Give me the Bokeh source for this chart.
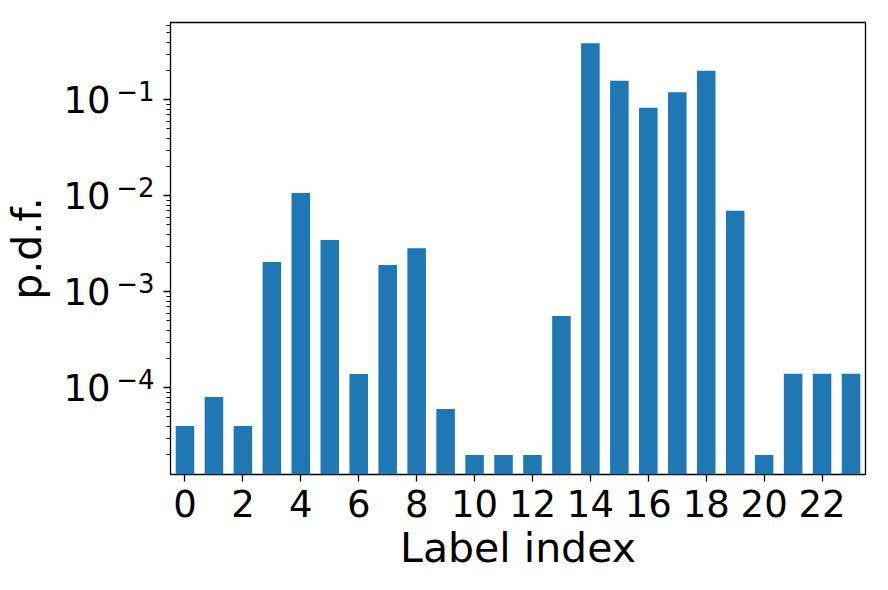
import math
from bokeh.plotting import figure
from bokeh.models import (FixedTicker, CustomJSTickFormatter, Range1d, ColumnDataSource,
                          LogAxis, LogScale)
from bokeh.embed import file_html
from bokeh.resources import INLINE

labels = list(range(24))
pdf = [4.0e-5, 8.0e-5, 4.0e-5, 2.04e-3, 1.07e-2, 3.46e-3, 1.39e-4, 1.9e-3,
       2.85e-3, 6.0e-5, 2.0e-5, 2.0e-5, 2.0e-5, 5.6e-4, 0.388, 0.158,
       0.083, 0.12, 0.201, 6.98e-3, 2.0e-5, 1.4e-4, 1.4e-4, 1.4e-4]
x_ticks = list(range(0, 24, 2))
y_ticks = [1e-4, 1e-3, 1e-2, 1e-1]

X0, X1 = -0.5, 23.5
Y0, Y1 = 1.25e-5, 0.64
SUP_SHIFT = 10 ** 0.095  # raises exponent labels a few pixels

minor = [k * 10.0 ** n for n in range(-5, 0) for k in range(2, 10)]

src = ColumnDataSource(dict(x=labels, top=pdf, bottom=[1e-7] * len(pdf)))

p = figure(width=888, height=590, y_axis_type="log", y_axis_location=None,
           output_backend="svg", toolbar_location=None,
           x_range=Range1d(X0, X1), y_range=Range1d(Y0, Y1),
           min_border_left=168, min_border_right=23, min_border_top=22,
           min_border_bottom=116)
p.extra_y_ranges = {"exp": Range1d(Y0 / SUP_SHIFT, Y1 / SUP_SHIFT)}
p.extra_y_scales = {"exp": LogScale()}

p.vbar(x="x", top="top", bottom="bottom", width=0.64, source=src,
       fill_color="#1f77b4", line_color=None)

p.grid.visible = False
p.outline_line_color = "black"
p.outline_line_width = 1.3

# x axis
xa = p.xaxis[0]
xa.ticker = FixedTicker(ticks=x_ticks)
xa.major_label_text_font = "DejaVu Sans"
xa.major_label_text_font_size = "37px"
xa.major_label_text_color = "black"
xa.axis_label = "Label index"
xa.axis_label_text_font = "DejaVu Sans"
xa.axis_label_text_font_size = "41px"
xa.axis_label_text_font_style = "normal"
xa.axis_label_text_color = "black"
xa.axis_line_color = None
xa.major_tick_line_color = "black"
xa.major_tick_line_width = 1.3
xa.major_tick_out = 7
xa.major_tick_in = 0
xa.minor_tick_line_color = None
xa.major_label_standoff = 8
xa.axis_label_standoff = 4

# y axis A: tick marks only (adjacent to the frame)
axA = LogAxis(ticker=FixedTicker(ticks=y_ticks, minor_ticks=minor),
              formatter=CustomJSTickFormatter(code="return '';"))
axA.axis_line_color = None
axA.major_tick_line_color = "black"
axA.major_tick_line_width = 1.3
axA.major_tick_out = 7
axA.major_tick_in = 0
axA.minor_tick_line_color = "black"
axA.minor_tick_line_width = 1.0
axA.minor_tick_out = 4
axA.minor_tick_in = 0
axA.major_label_standoff = 5
axA.major_label_text_font_size = "1px"

# y axis B: exponent labels
axB = LogAxis(y_range_name="exp", ticker=FixedTicker(ticks=y_ticks, minor_ticks=[]),
              formatter=CustomJSTickFormatter(
                  code="return '\u2212' + String(-Math.round(Math.log10(tick)));"))
axB.axis_line_color = None
axB.major_tick_line_color = None
axB.minor_tick_line_color = None
axB.major_tick_out = 0
axB.major_tick_in = 0
axB.minor_tick_out = 0
axB.minor_tick_in = 0
axB.major_label_standoff = 9
axB.major_label_text_font = "DejaVu Sans"
axB.major_label_text_font_size = "26px"
axB.major_label_text_color = "black"

# y axis C: the "10" mantissa labels and the axis title
axC = LogAxis(ticker=FixedTicker(ticks=y_ticks, minor_ticks=[]),
              formatter=CustomJSTickFormatter(code="return '10';"))
axC.axis_line_color = None
axC.major_tick_line_color = None
axC.minor_tick_line_color = None
axC.major_tick_out = 0
axC.major_tick_in = 0
axC.minor_tick_out = 0
axC.minor_tick_in = 0
axC.major_label_standoff = 3
axC.major_label_text_font = "DejaVu Sans"
axC.major_label_text_font_size = "37px"
axC.major_label_text_color = "black"
axC.axis_label = "p.d.f."
axC.axis_label_text_font = "DejaVu Sans"
axC.axis_label_text_font_size = "41px"
axC.axis_label_text_font_style = "normal"
axC.axis_label_text_color = "black"
axC.axis_label_standoff = 9

p.add_layout(axA, "left")
p.add_layout(axB, "left")
p.add_layout(axC, "left")

open("out.html", "w").write(file_html(p, INLINE))
